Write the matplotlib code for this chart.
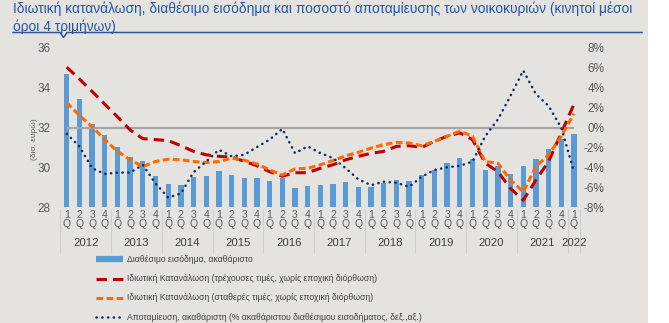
import matplotlib
matplotlib.use("Agg")
import matplotlib.pyplot as plt
from matplotlib.lines import Line2D
from matplotlib.patches import Rectangle
import numpy as np

# ---------------- data ----------------
years = ["2012", "2013", "2014", "2015", "2016", "2017", "2018", "2019", "2020", "2021", "2022"]
quarters = ["1", "2", "3", "4"] * 10 + ["1"]

income = [34.68, 33.42, 32.17, 31.62, 31.00, 30.53, 30.31, 29.55, 29.18, 29.13,
          29.52, 29.55, 29.80, 29.63, 29.48, 29.46, 29.31, 29.46, 28.94, 29.08,
          29.11, 29.18, 29.26, 29.03, 28.99, 29.21, 29.35, 29.30, 29.60, 29.85,
          30.22, 30.46, 30.39, 29.85, 30.05, 29.65, 30.05, 30.41, 30.90, 31.42,
          31.65]

cons_current = [6.07, 4.88, 3.63, 2.34, 1.08, -0.25, -1.12, -1.22, -1.32, -1.83,
                -2.40, -2.75, -2.90, -2.98, -3.40, -3.85, -4.45, -4.90, -4.55, -4.55,
                -4.10, -3.75, -3.25, -2.90, -2.60, -2.40, -1.90, -1.83, -2.00, -1.39,
                -0.88, -0.54, -1.22, -3.59, -4.44, -6.14, -7.32, -5.29, -3.42, -0.54,
                2.34]

cons_constant = [2.50, 1.22, 0.07, -1.22, -2.40, -3.25, -3.93, -3.42, -3.19, -3.25,
                 -3.42, -3.53, -3.42, -3.08, -3.30, -3.66, -4.27, -4.78, -4.17, -4.10,
                 -3.76, -3.32, -2.85, -2.50, -2.07, -1.73, -1.49, -1.56, -1.83, -1.39,
                 -0.88, -0.37, -0.88, -3.42, -3.59, -5.29, -6.47, -3.93, -2.75, -0.88,
                 1.40]

saving = [-0.64, -1.90, -4.10, -4.68, -4.54, -4.54, -3.76, -5.63, -7.05, -6.64,
          -4.50, -3.42, -2.24, -2.90, -2.75, -1.97, -1.22, -0.14, -2.58, -1.90,
          -2.58, -3.08, -4.10, -5.22, -5.80, -5.46, -5.56, -5.97, -4.95, -4.27,
          -4.00, -3.86, -3.42, -0.88, 0.81, 3.19, 5.73, 3.36, 2.17, -0.03,
          -4.44]

left_ticks = [28, 30, 32, 34, 36]
right_ticks = [-8, -6, -4, -2, 0, 2, 4, 6, 8]

title = ("Ιδιωτική κατανάλωση, διαθέσιμο εισόδημα και ποσοστό αποταμίευσης των νοικοκυριών (κινητοί μέσοι\n"
         "όροι 4 τριμήνων)")
legend_labels = ["Διαθέσιμο εισόδημα, ακαθάριστο",
                 "Ιδιωτική Κατανάλωση (τρέχουσες τιμές, χωρίς εποχική διόρθωση)",
                 "Ιδιωτική Κατανάλωση (σταθερές τιμές, χωρίς εποχική διόρθωση)",
                 "Αποταμίευση, ακαθάριστη (% ακαθάριστου διαθέσιμου εισοδήματος, δεξ.,αξ.)"]
ylabel_left = "(δισ. ευρώ)"

# ---------------- style ----------------
W, H = 669, 323
bg = "#e4e3df"
c_bar = "#5b9bd5"
c_red = "#c00000"
c_orange = "#ff6a00"
c_navy = "#0b2a66"
c_tick = "#595959"
c_text = "#404040"
c_title = "#2358a5"

plt.rcParams['font.family'] = ['Liberation Sans', 'DejaVu Sans']

fig = plt.figure(figsize=(W / 100, H / 100), dpi=100)
fig.patch.set_facecolor(bg)

def fx(px):
    return px / W

def fy(py):
    return 1 - py / H

ax_l, ax_r, ax_t, ax_b = 60.4, 580.3, 48, 207
ax = fig.add_axes([fx(ax_l), fy(ax_b), fx(ax_r - ax_l), (ax_b - ax_t) / H])
ax.set_facecolor(bg)
x = np.arange(len(income))

ax.bar(x, income, width=0.42, color=c_bar, zorder=2)
ax.set_ylim(28, 36)
ax.set_xlim(-0.5, len(income) - 0.5)
ax.set_yticks(left_ticks)
ax.set_yticklabels([str(t) for t in left_ticks])
ax.tick_params(axis='y', length=0, pad=7, labelsize=8.5, labelcolor=c_tick)
ax.set_xticks(x)
ax.set_xticklabels([f"{q}\nQ" for q in quarters], linespacing=0.85)
ax.tick_params(axis='x', length=0, pad=2, labelsize=7.5, labelcolor=c_tick)
for s in ax.spines.values():
    s.set_visible(False)

ax2 = ax.twinx()
ax2.set_ylim(-8, 8)
ax2.hlines(0, x[0], x[-1], color="#a6a6a6", lw=1.6, zorder=1)
ax2.plot(x, cons_current, color=c_red, lw=2.2, linestyle=(0, (3.4, 2.0)), zorder=3)
ax2.plot(x, cons_constant, color=c_orange, lw=2.2, linestyle=(0, (2.2, 1.1)), zorder=4)
ax2.plot(x, saving, color=c_navy, lw=1.8, linestyle=(0, (0.1, 2.2)),
         dash_capstyle='round', zorder=5)
ax2.set_yticks(right_ticks)
ax2.set_yticklabels([f"{t}%" for t in right_ticks], ha='right')
ax2.tick_params(axis='y', length=0, pad=17.5, labelsize=8.5, labelcolor=c_tick)
for s in ax2.spines.values():
    s.set_visible(False)

# year labels and separators
trans = ax.get_xaxis_transform()
axh = ax_b - ax_t
for k, yr in enumerate(years):
    start = 4 * k
    n = min(4, len(income) - start)
    ax.text(start + (n - 1) / 2, -(243 - ax_b) / axh, yr, transform=trans,
            ha='center', va='center', fontsize=8.2, color=c_text)
bounds = list(range(0, len(income), 4)) + [len(income)]
for b in bounds:
    ax.plot([b - 0.5, b - 0.5], [-(210 - ax_b) / axh, -(252 - ax_b) / axh],
            transform=trans, color="#cfcfcf", lw=0.8, clip_on=False)

# left axis label
fig.text(fx(34), fy(139), ylabel_left, rotation=90, ha='center', va='center',
         fontsize=6, color=c_tick)

# title and underline
fig.text(fx(13), fy(2), title, ha='left', va='top', fontsize=9.9, color=c_title,
         linespacing=1.25)
fig.add_artist(Line2D([fx(13), fx(60), fx(63.5), fx(67), fx(642)],
                      [fy(32.5), fy(32.5), fy(37.5), fy(32.5), fy(32.5)],
                      color="#2f5597", lw=1.1))

# legend
leg_y = [259, 278.5, 298, 317]
lx0, lx1, tx = 96, 123, 127
fig.add_artist(Line2D([fx(lx0), fx(lx1)], [fy(leg_y[0])] * 2, color=c_bar, lw=4.5,
                      solid_capstyle='butt'))
fig.add_artist(Line2D([fx(lx0), fx(lx1)], [fy(leg_y[1])] * 2, color=c_red, lw=2.2,
                      linestyle=(0, (3.4, 2.0)), dash_capstyle='butt'))
fig.add_artist(Line2D([fx(lx0), fx(lx1)], [fy(leg_y[2])] * 2, color=c_orange, lw=2.2,
                      linestyle=(0, (2.2, 1.1))))
fig.add_artist(Line2D([fx(lx0), fx(lx1)], [fy(leg_y[3])] * 2, color=c_navy, lw=1.8,
                      linestyle=(0, (0.1, 2.2)), dash_capstyle='round'))
for yy, lab in zip(leg_y, legend_labels):
    fig.text(fx(tx), fy(yy), lab, ha='left', va='center', fontsize=6.2, color=c_text)

# white strip at right edge
fig.add_artist(Rectangle((fx(648), 0), 1 - fx(648), 1, transform=fig.transFigure,
                         facecolor="white", edgecolor="none"))

fig.savefig("out.png", dpi=100, facecolor=fig.get_facecolor())
